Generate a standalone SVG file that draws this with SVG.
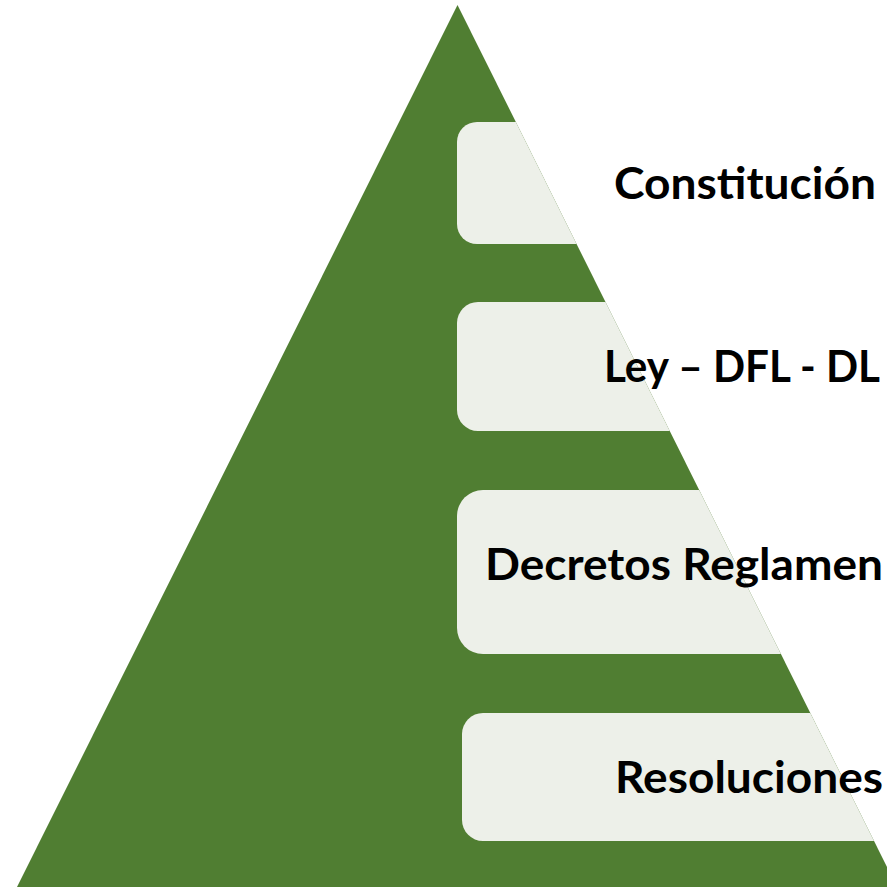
<svg xmlns="http://www.w3.org/2000/svg" width="887" height="887" viewBox="0 0 887 887">
  <style>
    .box { fill: #EDF0E9; }
    .lbl { font-family: "Lato", "Liberation Sans", sans-serif; font-weight: bold; font-size: 44px; fill: #000000; }
  </style>
  <defs>
    <clipPath id="tri">
      <polygon points="457.5,5 17,887 897,887"/>
    </clipPath>
  </defs>
  <rect x="0" y="0" width="887" height="887" fill="#FFFFFF"/>
  <g id="pyramid">
    <polygon points="457.5,5 17,887 897,887" fill="#507E32"/>
  </g>
  <g id="boxes" clip-path="url(#tri)">
    <rect class="box" x="457" y="122" width="480" height="122" rx="20"/>
    <rect class="box" x="457" y="302" width="480" height="129" rx="21"/>
    <rect class="box" x="457" y="490" width="480" height="164" rx="26"/>
    <rect class="box" x="462" y="713" width="480" height="128" rx="21"/>
  </g>
  <g id="node1"><text class="lbl" x="614" y="199" textLength="262" lengthAdjust="spacingAndGlyphs">Constitución</text></g>
  <g id="node2"><text class="lbl" x="604" y="382" textLength="276" lengthAdjust="spacingAndGlyphs">Ley – DFL - DL</text></g>
  <g id="node3"><text class="lbl" x="485" y="580" textLength="398" lengthAdjust="spacingAndGlyphs">Decretos Reglamen</text></g>
  <g id="node4"><text class="lbl" x="615" y="793" textLength="268" lengthAdjust="spacingAndGlyphs">Resoluciones</text></g>
  <g id="connectors"></g>
</svg>
